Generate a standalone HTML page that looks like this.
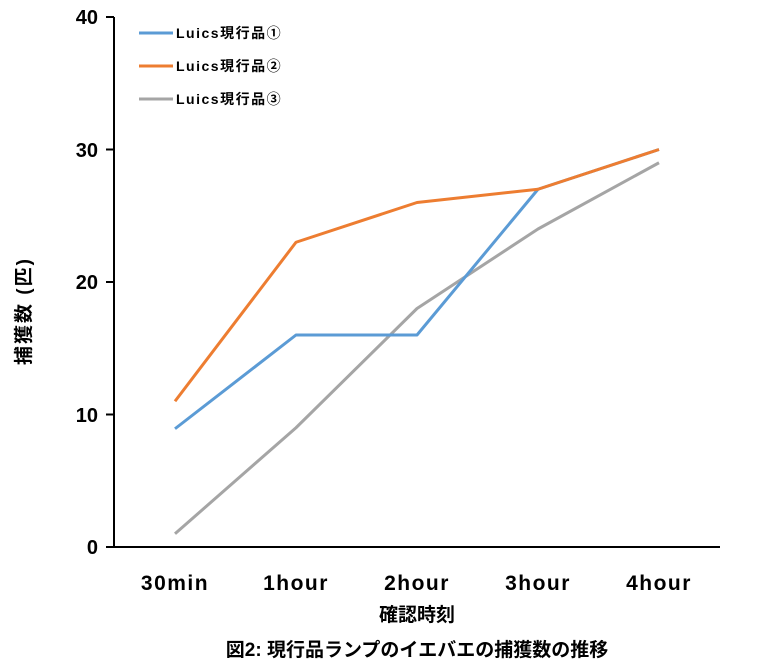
<!DOCTYPE html>
<html><head><meta charset="utf-8"><style>
html,body{margin:0;padding:0;background:#fff;}
</style></head><body>
<svg width="766" height="671" xmlns="http://www.w3.org/2000/svg" style="display:block;font-family:'Liberation Sans','Noto Sans CJK JP',sans-serif;">
<rect width="766" height="671" fill="#fff"/>
<g stroke="#000" stroke-width="2" fill="none">
<line x1="114" y1="17" x2="114" y2="548"/>
<line x1="113" y1="547" x2="720" y2="547"/>
<line x1="106" y1="17" x2="114" y2="17"/>
<line x1="106" y1="149.5" x2="114" y2="149.5"/>
<line x1="106" y1="282" x2="114" y2="282"/>
<line x1="106" y1="414.5" x2="114" y2="414.5"/>
<line x1="106" y1="547" x2="114" y2="547"/>
</g>
<g font-size="20" font-weight="bold" text-anchor="end" fill="#000">
<text x="98" y="24">40</text>
<text x="98" y="157">30</text>
<text x="98" y="289">20</text>
<text x="98" y="422">10</text>
<text x="98" y="554">0</text>
</g>
<g font-size="21" font-weight="bold" text-anchor="middle" fill="#000" letter-spacing="1.5">
<text x="175" y="590">30min</text>
<text x="296" y="590">1hour</text>
<text x="417" y="590">2hour</text>
<text x="538" y="590">3hour</text>
<text x="659" y="590">4hour</text>
</g>
<g font-size="19" font-weight="bold" text-anchor="middle" fill="#000">
<text x="417" y="621">確認時刻</text>
<text x="417" y="656">図2: 現行品ランプのイエバエの捕獲数の推移</text>
</g>
<text transform="translate(30,311) rotate(-90)" font-size="19" font-weight="bold" text-anchor="middle" letter-spacing="2">捕獲数 (匹)</text>
<g fill="none" stroke-width="3" stroke-linejoin="round">
<polyline stroke="#a5a5a5" points="175,533.75 296,427.75 417,308.5 538,229 659,162.75"/>
<polyline stroke="#5b9bd5" points="175,428.75 296,335 417,335 538,189.25 659,149.5"/>
<polyline stroke="#ed7d31" points="175,401.25 296,242.25 417,202.5 538,189.25 659,149.5"/>
<line stroke="#5b9bd5" x1="139" y1="33" x2="173" y2="33"/>
<line stroke="#ed7d31" x1="139" y1="66" x2="173" y2="66"/>
<line stroke="#a5a5a5" x1="139" y1="99" x2="173" y2="99"/>
</g>
<g font-size="14" font-weight="bold" fill="#000" letter-spacing="1.5">
<text x="176" y="38">Luics現行品①</text>
<text x="176" y="71">Luics現行品②</text>
<text x="176" y="104">Luics現行品③</text>
</g>
</svg>
</body></html>
